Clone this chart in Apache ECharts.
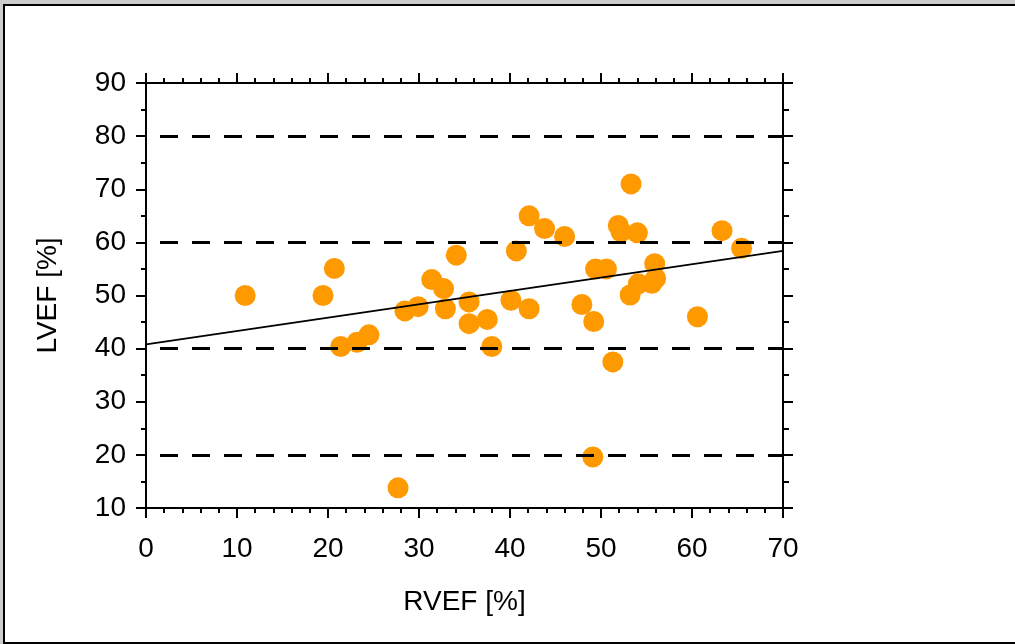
<!DOCTYPE html>
<html>
<head>
<meta charset="utf-8">
<script src="https://cdn.jsdelivr.net/npm/echarts@6/dist/echarts.min.js"></script>
<style>
  html, body { margin: 0; padding: 0; width: 1015px; height: 644px; overflow: hidden; background: #cccccc; }
  #frame { position: absolute; left: 3px; top: 4px; width: 1100px; height: 636px; background: #ffffff;
           border-top: 2px solid #000; border-left: 2px solid #000; border-bottom: 2px solid #000; }
  #chart { position: absolute; left: 0; top: 0; width: 1015px; height: 644px; }
</style>
</head>
<body>
<div id="frame"></div>
<div id="chart"></div>
<script>
// RVEF [%] values
const rvef = [10.9, 19.45, 20.7, 21.4, 23.2, 24.5, 27.7, 28.45, 29.9, 31.4, 32.7, 32.9, 34.1, 35.5, 35.5, 37.5, 38.0,
  40.1, 40.7, 42.1, 42.1, 43.8, 46.0, 47.9, 49.2, 49.1, 49.4, 50.6, 51.3, 51.9, 52.2, 53.3, 53.2, 54.0, 54.1,
  55.6, 56.0, 55.9, 60.6, 63.3, 65.45];
// LVEF [%] values
const lvef = [50.0, 50.0, 55.1, 40.4, 41.2, 42.6, 13.8, 47.1, 47.9, 53.0, 51.3, 47.5, 57.6, 48.8, 44.7, 45.5, 40.4,
  49.1, 58.4, 65.0, 47.5, 62.6, 61.1, 48.3, 45.1, 19.6, 55.0, 55.0, 37.5, 63.2, 62.0, 71.0, 50.1, 61.8, 52.2,
  52.3, 53.2, 56.0, 46.0, 62.2, 58.9];
// regression line end points [RVEF, LVEF]
const fitX = [0, 70];
const fitY = [40.8, 58.4];
// dashed reference levels
const refLevels = [20, 40, 60, 80];
// axis ranges
const xRange = [0, 70];
const yRange = [10, 90];

const FONT = '"Liberation Sans", Arial, sans-serif';
const FS = 28;

const points = rvef.map((x, i) => [x, lvef[i]]);
const fit = fitX.map((x, i) => [x, fitY[i]]);

const axisLine = { show: true, onZero: false, lineStyle: { color: '#000', width: 2 } };
const tick = { show: true, length: 10, lineStyle: { color: '#000', width: 2 } };

const chart = echarts.init(document.getElementById('chart'), null, { renderer: 'canvas' });
chart.setOption({
  animation: false,
  backgroundColor: 'transparent',
  grid: { left: 146, right: 232, top: 83, bottom: 136, containLabel: false },
  xAxis: [
    {
      type: 'value', position: 'bottom', min: xRange[0], max: xRange[1], interval: 10,
      name: 'RVEF [%]', nameLocation: 'middle', nameGap: 80,
      nameTextStyle: { fontFamily: FONT, fontSize: FS, color: '#000' },
      axisLine: axisLine, axisTick: tick,
      minorTick: { show: true, splitNumber: 5, length: 5, lineStyle: { color: '#000', width: 2 } },
      axisLabel: { fontFamily: FONT, fontSize: FS, color: '#000', margin: 27 },
      splitLine: { show: false }
    },
    {
      type: 'value', position: 'top', min: xRange[0], max: xRange[1], interval: 10,
      axisLine: axisLine, axisTick: tick,
      minorTick: { show: true, splitNumber: 5, length: 5, lineStyle: { color: '#000', width: 2 } },
      axisLabel: { show: false }, splitLine: { show: false }
    }
  ],
  yAxis: [
    {
      type: 'value', position: 'left', min: yRange[0], max: yRange[1], interval: 10,
      name: 'LVEF [%]', nameLocation: 'middle', nameGap: 84, nameRotate: 90,
      nameTextStyle: { fontFamily: FONT, fontSize: FS, color: '#000' },
      axisLine: axisLine, axisTick: tick,
      minorTick: { show: true, splitNumber: 2, length: 5, lineStyle: { color: '#000', width: 2 } },
      axisLabel: { fontFamily: FONT, fontSize: FS, color: '#000', margin: 20 },
      splitLine: { show: false }
    },
    {
      type: 'value', position: 'right', min: yRange[0], max: yRange[1], interval: 10,
      axisLine: axisLine, axisTick: tick,
      minorTick: { show: true, splitNumber: 2, length: 6, lineStyle: { color: '#000', width: 2 } },
      axisLabel: { show: false }, splitLine: { show: false }
    }
  ],
  series: [
    {
      type: 'scatter', xAxisIndex: 0, yAxisIndex: 0, data: points,
      symbol: 'circle', symbolSize: 21,
      itemStyle: { color: '#FF9900', opacity: 1 }, z: 2
    },
    {
      type: 'line', xAxisIndex: 0, yAxisIndex: 0, data: fit,
      showSymbol: false, symbol: 'none',
      lineStyle: { color: '#000', width: 2 }, z: 3,
      markLine: {
        silent: true, symbol: ['none', 'none'], label: { show: false },
        lineStyle: { color: '#000', width: 3, type: [18, 14], dashOffset: 18 },
        data: refLevels.map(v => ({ yAxis: v }))
      }
    }
  ]
});
</script>
</body>
</html>
